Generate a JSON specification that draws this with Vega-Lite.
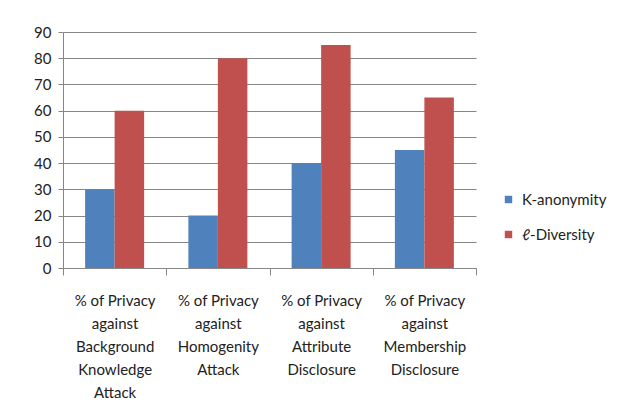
{
  "$schema": "https://vega.github.io/schema/vega-lite/v6.json",
  "autosize": "none",
  "padding": {"left": 63, "top": 32, "right": 145, "bottom": 151},
  "width": 413,
  "height": 236,
  "background": "white",
  "data": {
    "values": [
      {"category": "% of Privacy|against|Background|Knowledge|Attack", "series": "K-anonymity", "value": 30},
      {"category": "% of Privacy|against|Background|Knowledge|Attack", "series": "ℓ-Diversity", "value": 60},
      {"category": "% of Privacy|against|Homogenity|Attack", "series": "K-anonymity", "value": 20},
      {"category": "% of Privacy|against|Homogenity|Attack", "series": "ℓ-Diversity", "value": 80},
      {"category": "% of Privacy|against|Attribute|Disclosure", "series": "K-anonymity", "value": 40},
      {"category": "% of Privacy|against|Attribute|Disclosure", "series": "ℓ-Diversity", "value": 85},
      {"category": "% of Privacy|against|Membership|Disclosure", "series": "K-anonymity", "value": 45},
      {"category": "% of Privacy|against|Membership|Disclosure", "series": "ℓ-Diversity", "value": 65}
    ]
  },
  "mark": {"type": "bar"},
  "encoding": {
    "x": {
      "field": "category",
      "type": "nominal",
      "sort": null,
      "title": null,
      "scale": {"paddingInner": 0, "paddingOuter": 0},
      "axis": {
        "labelExpr": "split(datum.label, '|')",
        "labelAngle": 0,
        "labelFontSize": 15,
        "labelLineHeight": 23,
        "labelPadding": 18,
        "labelColor": "#222",
        "labelFont": "Lato",
        "labelBaseline": "top",
        "tickBand": "extent",
        "tickSize": 7,
        "tickColor": "#868686",
        "domainColor": "#868686",
        "grid": false
      }
    },
    "xOffset": {
      "field": "series",
      "type": "nominal",
      "sort": ["K-anonymity", "ℓ-Diversity"],
      "scale": {"paddingInner": 0, "paddingOuter": 0.75}
    },
    "y": {
      "field": "value",
      "type": "quantitative",
      "title": null,
      "scale": {"domain": [0, 90], "nice": false},
      "axis": {
        "values": [0, 10, 20, 30, 40, 50, 60, 70, 80, 90],
        "labelFontSize": 15,
        "labelFont": "Lato",
        "labelColor": "#222",
        "tickSize": 5,
        "labelPadding": 7,
        "tickColor": "#868686",
        "domainColor": "#868686",
        "gridColor": "#868686",
        "gridOpacity": 1
      }
    },
    "color": {
      "field": "series",
      "type": "nominal",
      "sort": ["K-anonymity", "ℓ-Diversity"],
      "scale": {"domain": ["K-anonymity", "ℓ-Diversity"], "range": ["#4F81BD", "#C0504D"]},
      "legend": {
        "title": null,
        "orient": "none",
        "legendX": 438,
        "legendY": 160,
        "symbolType": "square",
        "symbolSize": 55,
        "symbolStrokeWidth": 0,
        "labelFontSize": 15,
        "labelFont": "Lato",
        "labelColor": "#222",
        "rowPadding": 19,
        "labelOffset": 6
      }
    }
  },
  "config": {"view": {"stroke": null}}
}
